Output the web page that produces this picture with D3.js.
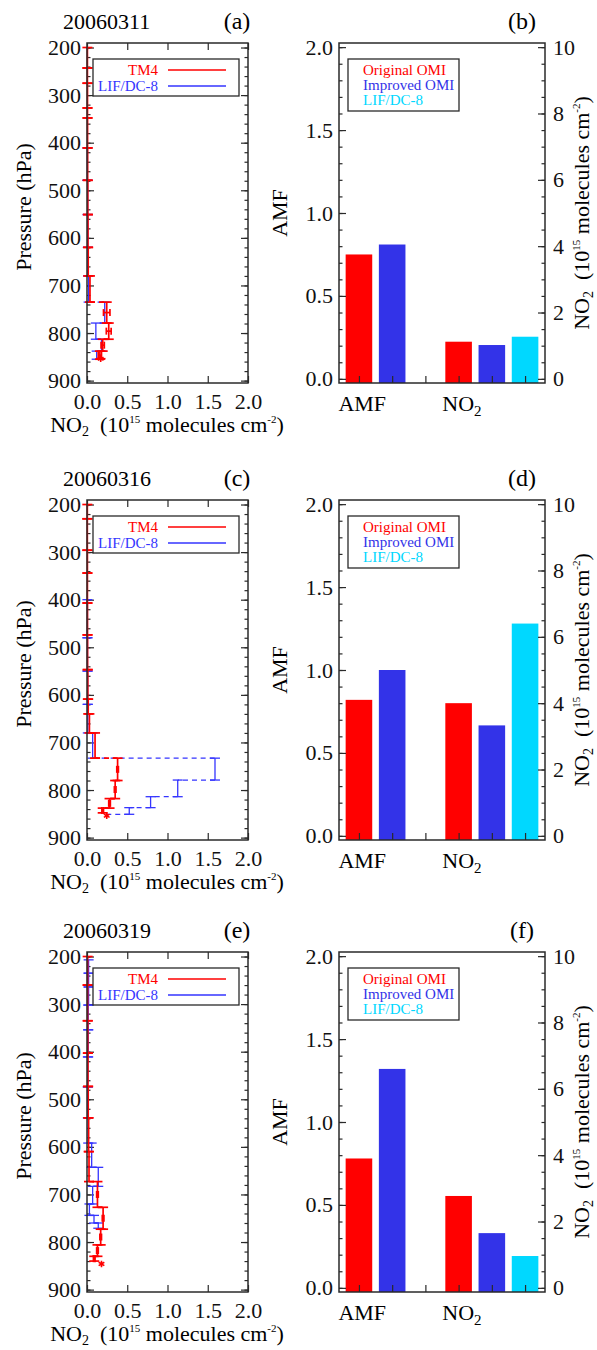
<!DOCTYPE html>
<html lang="en">
  <head>
    <meta charset="utf-8">
    <title>OMI NO2 profiles</title>
    <script src="https://cdn.jsdelivr.net/npm/d3@7"></script>
    <style type="text/css">
      body { margin: 0; background: #fff; }
      svg text { font-family: "Liberation Serif", "Times New Roman", serif; }
    </style>
  </head>
  <body>
    <script type="text/javascript">
    // Dates and panel tags
    var dates = ["20060311", "20060316", "20060319"];
    var leftTags = ["(a)", "(c)", "(e)"];
    var rightTags = ["(b)", "(d)", "(f)"];

    // TM4 profiles: layer boundaries (hPa), layer values, horizontal errors
    var tm4PresA = [200, 243, 275, 327, 348, 411, 479, 551, 620, 680, 735, 779, 813, 838, 855];
    var tm4A     = [0.005, 0.005, 0.006, 0.006, 0.007, 0.008, 0.01, 0.012, 0.015, 0.037, 0.245, 0.27, 0.195, 0.16];
    var tm4ErrA  = [0, 0, 0, 0, 0, 0, 0, 0, 0, 0, 0.04, 0.03, 0.02, 0.02];
    var tm4PresC = [200, 230, 296, 344, 407, 474, 547, 609, 640, 680, 733, 780, 818, 838, 848];
    var tm4C     = [0.004, 0.004, 0.005, 0.005, 0.006, 0.007, 0.01, 0.015, 0.03, 0.1, 0.38, 0.35, 0.28, 0.195];
    var tm4ErrC  = [0, 0, 0, 0, 0, 0, 0, 0, 0, 0, 0.01, 0.01, 0.01, 0.01];
    var tm4PresE = [200, 260, 335, 403, 473, 539, 610, 673, 727, 773, 806, 830, 840];
    var tm4E     = [0.008, 0.008, 0.01, 0.012, 0.015, 0.02, 0.025, 0.13, 0.2, 0.17, 0.13, 0.09];
    var tm4ErrE  = [0, 0, 0, 0, 0, 0, 0, 0.01, 0.01, 0.01, 0.01, 0.01];

    // TM4 surface points (asterisk)
    var tm4SurfVal  = [0.17, 0.245, 0.18];
    var tm4SurfPres = [854, 854, 846];
    var tm4SurfErr  = [0.06, 0.02, 0.01];

    // LIF/DC-8 profiles
    var lifPresA = [411, 479, 551, 620, 680, 735, 779, 813, 838, 855];
    var lifA     = [0.005, 0.008, 0.01, 0.012, 0.02, 0.22, 0.11, 0.18, 0.12];
    var lifPresC = [400, 480, 550, 620, 680, 733, 779, 814, 837, 851];
    var lifC     = [0.005, 0.006, 0.008, 0.01, 0.07, 1.59, 1.127, 0.79, 0.525];
    var lifPresE = [207, 235, 264, 302, 354, 411, 474, 539, 592, 643, 683, 720, 744, 760, 771];
    var lifE     = [0.02, 0.02, 0.02, 0.015, 0.015, 0.01, 0.01, 0.015, 0.058, 0.14, 0.07, 0.03, 0.087, 0.14];
    var lifSurfVal = [0.17, 0.2, null];

    // Bar panels: AMF (left axis) and NO2 columns in 1e15 (right axis)
    var amfOrig = [0.75, 0.82, 0.78];
    var amfImpr = [0.81, 1.0, 1.32];
    var no2Orig = [1.12, 4.0, 2.77];
    var no2Impr = [1.02, 3.33, 1.65];
    var no2Lif  = [1.27, 6.4, 0.96];

    // Tick labels
    var presTicks = [200, 300, 400, 500, 600, 700, 800, 900];
    var no2Ticks = [0, 0.5, 1.0, 1.5, 2.0];
    var amfTicks = [0, 0.5, 1.0, 1.5, 2.0];
    var colTicks = [0, 2, 4, 6, 8, 10];
    var barSlots = [0, 1, 2, 3, 4, 5];
    var catNames = ["AMF", "NO2"];
    var catPos = [0.1, 3.1];

    var RED = "#ff0000", BLUE = "#3535ff", BARBLUE = "#3333e8", CYAN = "#00d8ff";
    var AX = "#2a2a2a";
    var SERIF = "'Liberation Serif', 'Times New Roman', serif";

    var w = 597, h = 1350;
    var rowShift = [0, 457, 909];

    var svg = d3.select("body")
                .append("svg")
                .attr("width", w)
                .attr("height", h)
                .style("font-family", SERIF);
    svg.append("rect").attr("width", w).attr("height", h).attr("fill", "#fff");

    var profiles = [
      {tp: tm4PresA, tv: tm4A, te: tm4ErrA, lp: lifPresA, lv: lifA},
      {tp: tm4PresC, tv: tm4C, te: tm4ErrC, lp: lifPresC, lv: lifC},
      {tp: tm4PresE, tv: tm4E, te: tm4ErrE, lp: lifPresE, lv: lifE}
    ];

    // scales shared by every row
    var x = d3.scaleLinear().domain([0, 2]).range([87, 248]);
    var y = d3.scaleLinear().domain([190.5, 905]).range([43, 383]);
    var xb = d3.scaleLinear().domain([-0.6, 5.6]).range([339, 545]);
    var yl = d3.scaleLinear().domain([-0.025, 2.025]).range([383, 43]);
    var yr = d3.scaleLinear().domain([-0.125, 10.125]).range([383, 43]);

    function styleAxis(g, size) {
      g.attr("font-family", SERIF).attr("font-size", size);
      g.select(".domain").remove();
      g.selectAll("line").attr("stroke", AX).attr("stroke-width", 1.2);
      g.selectAll("text").attr("fill", "#111").style("font-family", SERIF);
    }

    function drawLayers(g, pres, vals, errs, color, surf) {
      var layers = vals.map(function(v, i) {
        return {v: v, p0: pres[i], p1: pres[i + 1], next: i < vals.length - 1 ? vals[i + 1] : surf,
                e: errs ? errs[i] : 0};
      });
      var sw = color == RED ? 1.7 : 1.3;
      // connectors between layers
      g.selectAll(null).data(layers.filter(function(d) { return d.next != null; }))
        .enter().append("line")
        .attr("x1", function(d) { return x(d.v); })
        .attr("x2", function(d) { return x(d.next); })
        .attr("y1", function(d) { return y(d.p1); })
        .attr("y2", function(d) { return y(d.p1); })
        .attr("stroke", color).attr("stroke-width", sw)
        .attr("stroke-dasharray", "5,4");
      // vertical layer segments
      g.selectAll(null).data(layers).enter().append("line")
        .attr("x1", function(d) { return x(d.v); })
        .attr("x2", function(d) { return x(d.v); })
        .attr("y1", function(d) { return y(d.p0); })
        .attr("y2", function(d) { return y(d.p1); })
        .attr("stroke", color).attr("stroke-width", sw);
      // caps at layer edges
      ["p0", "p1"].forEach(function(k) {
        g.selectAll(null).data(layers).enter().append("line")
          .attr("x1", function(d) { return x(d.v) - 5; })
          .attr("x2", function(d) { return x(d.v) + 5; })
          .attr("y1", function(d) { return y(d[k]); })
          .attr("y2", function(d) { return y(d[k]); })
          .attr("stroke", color).attr("stroke-width", sw);
      });
      // horizontal error bars at layer middle
      var eb = layers.filter(function(d) { return d.e > 0; });
      g.selectAll(null).data(eb).enter().append("line")
        .attr("x1", function(d) { return x(d.v - d.e); })
        .attr("x2", function(d) { return x(d.v + d.e); })
        .attr("y1", function(d) { return y((d.p0 + d.p1) / 2); })
        .attr("y2", function(d) { return y((d.p0 + d.p1) / 2); })
        .attr("stroke", color).attr("stroke-width", 1.7);
      [-1, 1].forEach(function(s) {
        g.selectAll(null).data(eb).enter().append("line")
          .attr("x1", function(d) { return x(d.v + s * d.e); })
          .attr("x2", function(d) { return x(d.v + s * d.e); })
          .attr("y1", function(d) { return y((d.p0 + d.p1) / 2) - 3.5; })
          .attr("y2", function(d) { return y((d.p0 + d.p1) / 2) + 3.5; })
          .attr("stroke", color).attr("stroke-width", 1.7);
      });
    }

    // NO2 (10^15 molecules cm^-2) with sub/superscripts
    function no2Label(t, sub, sup) {
      t.append("tspan").text("NO");
      t.append("tspan").attr("font-size", sub).attr("dy", 4).text("2");
      t.append("tspan").attr("dy", -4).text("  (10");
      t.append("tspan").attr("font-size", sup).attr("dy", -9).text("15");
      t.append("tspan").attr("dy", 9).text(" molecules cm");
      t.append("tspan").attr("font-size", sup).attr("dy", -9).text("-2");
      t.append("tspan").attr("dy", 9).text(")");
    }

    rowShift.forEach(function(shift, r) {
      var g = svg.append("g").attr("transform", "translate(0," + shift + ")");
      var prof = profiles[r];

      // ---------- left panel: profiles ----------
      g.append("text").attr("x", 63).attr("y", 29).attr("font-size", 22).text(dates[r]);
      g.append("text").attr("x", 237).attr("y", 29).attr("font-size", 24)
       .attr("text-anchor", "middle").text(leftTags[r]);

      var pl = g.append("g");
      pl.append("g").attr("transform", "translate(87,0)")
        .call(d3.axisLeft(y).tickValues(presTicks).tickSize(-7).tickPadding(6).tickFormat(d3.format("d")))
        .call(styleAxis, 22);
      pl.append("g").attr("transform", "translate(87,0)")
        .call(d3.axisLeft(y).tickValues(d3.range(200, 901, 20)).tickSize(-3.5).tickFormat(""))
        .call(styleAxis, 22);
      pl.append("g").attr("transform", "translate(248,0)")
        .call(d3.axisRight(y).tickValues(presTicks).tickSize(-7).tickFormat(""))
        .call(styleAxis, 22);
      pl.append("g").attr("transform", "translate(248,0)")
        .call(d3.axisRight(y).tickValues(d3.range(200, 901, 20)).tickSize(-3.5).tickFormat(""))
        .call(styleAxis, 22);
      pl.append("g").attr("transform", "translate(0,383)")
        .call(d3.axisBottom(x).tickValues(no2Ticks).tickSize(-7).tickPadding(10).tickFormat(d3.format(".1f")))
        .call(styleAxis, 22);
      pl.append("g").attr("transform", "translate(0,43)")
        .call(d3.axisTop(x).tickValues(no2Ticks).tickSize(-7).tickFormat(""))
        .call(styleAxis, 22);

      drawLayers(pl, prof.lp, prof.lv, null, BLUE, lifSurfVal[r]);
      drawLayers(pl, prof.tp, prof.tv, prof.te, RED, null);

      // TM4 surface point
      var sp = [tm4SurfVal[r], tm4SurfPres[r], tm4SurfErr[r]];
      pl.append("line").attr("x1", x(sp[0] - sp[2])).attr("x2", x(sp[0] + sp[2]))
        .attr("y1", y(sp[1])).attr("y2", y(sp[1])).attr("stroke", RED).attr("stroke-width", 1.7);
      pl.append("path").attr("d", d3.symbol().type(d3.symbolAsterisk).size(30)())
        .attr("transform", "translate(" + x(sp[0]) + "," + y(sp[1]) + ")")
        .attr("stroke", RED).attr("stroke-width", 1.6).attr("fill", "none");

      // frame
      pl.append("rect").attr("x", 87).attr("y", 43).attr("width", 161).attr("height", 340)
        .attr("fill", "none").attr("stroke", AX).attr("stroke-width", 1.5);

      // legend
      pl.append("rect").attr("x", 93).attr("y", 59).attr("width", 146).attr("height", 37)
        .attr("fill", "#fff").attr("stroke", AX).attr("stroke-width", 1.3);
      pl.append("text").attr("x", 158).attr("y", 75).attr("text-anchor", "end")
        .attr("font-size", 15).attr("fill", RED).text("TM4");
      pl.append("text").attr("x", 158).attr("y", 91).attr("text-anchor", "end")
        .attr("font-size", 15).attr("fill", BLUE).text("LIF/DC-8");
      pl.append("line").attr("x1", 168).attr("x2", 226).attr("y1", 70).attr("y2", 70)
        .attr("stroke", RED).attr("stroke-width", 1.3);
      pl.append("line").attr("x1", 168).attr("x2", 226).attr("y1", 86).attr("y2", 86)
        .attr("stroke", BLUE).attr("stroke-width", 1.3);

      // axis titles
      pl.append("text").attr("transform", "translate(31,207) rotate(-90)")
        .attr("text-anchor", "middle").attr("font-size", 22).text("Pressure (hPa)");
      var xt = pl.append("text").attr("x", 167).attr("y", 432).attr("text-anchor", "middle")
        .attr("font-size", 22).style("white-space", "pre");
      no2Label(xt, 14, 11);

      // ---------- right panel: bars ----------
      g.append("text").attr("x", 522).attr("y", 29).attr("font-size", 24)
       .attr("text-anchor", "middle").text(rightTags[r]);

      var bp = g.append("g");
      var bars = [
        {i: 0, v: yl(amfOrig[r]), c: RED},
        {i: 1, v: yl(amfImpr[r]), c: BARBLUE},
        {i: 3, v: yr(no2Orig[r]), c: RED},
        {i: 4, v: yr(no2Impr[r]), c: BARBLUE},
        {i: 5, v: yr(no2Lif[r]), c: CYAN}
      ];
      bp.selectAll("rect.bar").data(bars).enter().append("rect")
        .attr("class", "bar")
        .attr("x", function(d) { return xb(d.i - 0.4); })
        .attr("width", xb(0.4) - xb(-0.4))
        .attr("y", function(d) { return d.v; })
        .attr("height", function(d) { return 383 - d.v; })
        .attr("fill", function(d) { return d.c; });

      bp.append("g").attr("transform", "translate(339,0)")
        .call(d3.axisLeft(yl).tickValues(amfTicks).tickSize(-7).tickPadding(6).tickFormat(d3.format(".1f")))
        .call(styleAxis, 22);
      bp.append("g").attr("transform", "translate(339,0)")
        .call(d3.axisLeft(yl).tickValues(d3.range(0, 2.01, 0.1)).tickSize(-3.5).tickFormat(""))
        .call(styleAxis, 22);
      bp.append("g").attr("transform", "translate(545,0)")
        .call(d3.axisRight(yr).tickValues(colTicks).tickSize(-7).tickPadding(8).tickFormat(d3.format("d")))
        .call(styleAxis, 22);
      bp.append("g").attr("transform", "translate(545,0)")
        .call(d3.axisRight(yr).tickValues(d3.range(0, 10.01, 0.5)).tickSize(-3.5).tickFormat(""))
        .call(styleAxis, 22);
      bp.append("g").attr("transform", "translate(0,383)")
        .call(d3.axisBottom(xb).tickValues(barSlots).tickSize(-7).tickFormat(""))
        .call(styleAxis, 22);

      bp.append("rect").attr("x", 339).attr("y", 43).attr("width", 206).attr("height", 340)
        .attr("fill", "none").attr("stroke", AX).attr("stroke-width", 1.5);

      // category labels
      bp.append("text").attr("x", xb(catPos[0])).attr("y", 411).attr("text-anchor", "middle")
        .attr("font-size", 22).text(catNames[0]);
      var nt = bp.append("text").attr("x", xb(catPos[1])).attr("y", 411).attr("text-anchor", "middle")
        .attr("font-size", 22);
      nt.append("tspan").text(catNames[1].slice(0, 2));
      nt.append("tspan").attr("font-size", 15).attr("dy", 5).text(catNames[1].slice(2));

      // legend
      bp.append("rect").attr("x", 348).attr("y", 59).attr("width", 111).attr("height", 52)
        .attr("fill", "#fff").attr("stroke", AX).attr("stroke-width", 1.3);
      var legNames = ["Original OMI", "Improved OMI", "LIF/DC-8"];
      var legCols = [RED, BARBLUE, CYAN];
      bp.selectAll("text.leg").data(legNames).enter().append("text")
        .attr("class", "leg")
        .attr("x", 363).attr("y", function(d, i) { return 75 + i * 15; })
        .attr("font-size", 15)
        .attr("fill", function(d, i) { return legCols[i]; })
        .text(function(d) { return d; });

      // axis titles
      bp.append("text").attr("transform", "translate(287,213) rotate(-90)")
        .attr("text-anchor", "middle").attr("font-size", 22).text("AMF");
      var rt = bp.append("text").attr("transform", "translate(589,213) rotate(-90)")
        .attr("text-anchor", "middle").attr("font-size", 22).style("white-space", "pre");
      no2Label(rt, 14, 11);
    });
    </script>
  </body>
</html>
